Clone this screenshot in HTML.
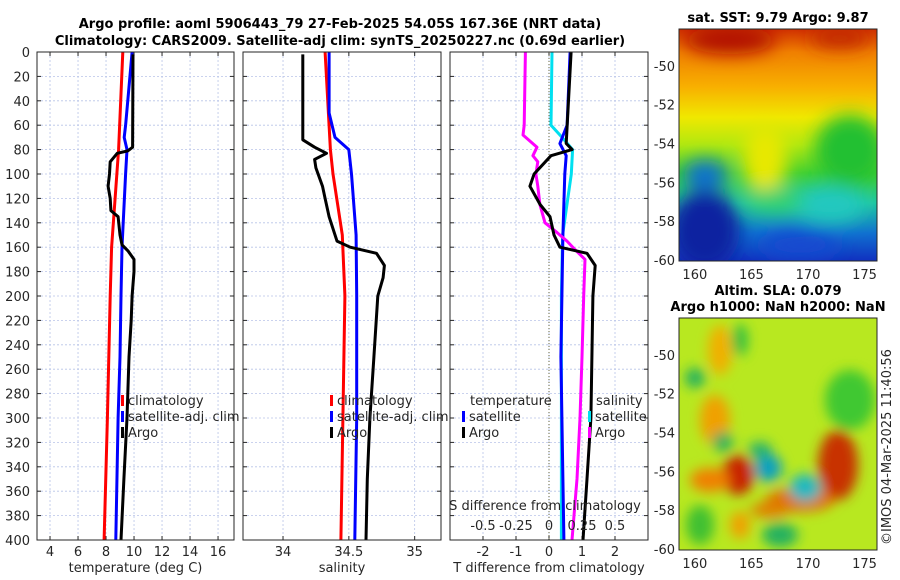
<!DOCTYPE html>
<html><head><meta charset="utf-8"><style>
body{margin:0;background:#fff;}
svg{display:block;font-family:"DejaVu Sans","Liberation Sans",sans-serif;}
.t{font-size:13px;fill:#262626;}
.tb{font-size:13px;font-weight:bold;fill:#000;}
</style></head><body>
<svg id="c" width="900" height="580" xmlns="http://www.w3.org/2000/svg">
<defs>
<filter id="bl" x="-50%" y="-50%" width="200%" height="200%"><feGaussianBlur stdDeviation="9"/></filter>
<filter id="bl2" x="-50%" y="-50%" width="200%" height="200%"><feGaussianBlur stdDeviation="6"/></filter>
<clipPath id="m1c"><rect x="679" y="29" width="198" height="232"/></clipPath>
<clipPath id="m2c"><rect x="679" y="318" width="198" height="232"/></clipPath>
<linearGradient id="sstg" x1="0" y1="0" x2="0" y2="1">
<stop offset="0" stop-color="#d03000"/><stop offset="0.1" stop-color="#f08000"/><stop offset="0.25" stop-color="#f8b000"/><stop offset="0.38" stop-color="#f0e800"/><stop offset="0.5" stop-color="#b0e810"/><stop offset="0.62" stop-color="#40d030"/><stop offset="0.75" stop-color="#20c8a0"/><stop offset="0.88" stop-color="#1070d0"/><stop offset="1" stop-color="#1030c0"/>
</linearGradient>
</defs>
<text class="tb" x="340" y="28" text-anchor="middle">Argo profile: aoml 5906443_79 27-Feb-2025 54.05S 167.36E (NRT data)</text>
<text class="tb" x="340" y="45" text-anchor="middle">Climatology: CARS2009. Satellite-adj clim: synTS_20250227.nc (0.69d earlier)</text>
<g id="plots"></g>

<g clip-path="url(#m1c)">
<rect x="679" y="29" width="198" height="232" fill="url(#sstg)"/>
<g filter="url(#bl)">
<ellipse cx="730" cy="40" rx="45" ry="14" fill="#b01000"/>
<ellipse cx="840" cy="38" rx="30" ry="10" fill="#c02800"/>
<ellipse cx="765" cy="160" rx="22" ry="35" fill="#e8e800"/>
<ellipse cx="850" cy="150" rx="35" ry="35" fill="#20c030"/>
<ellipse cx="830" cy="205" rx="35" ry="18" fill="#20c8c0"/>
<ellipse cx="705" cy="230" rx="35" ry="40" fill="#0820a0"/>
<ellipse cx="800" cy="245" rx="40" ry="14" fill="#1848d0"/>
<ellipse cx="775" cy="200" rx="30" ry="12" fill="#30d070"/>
<ellipse cx="705" cy="175" rx="22" ry="15" fill="#1070d0"/>
</g>
</g>
<rect x="679" y="29" width="198" height="232" fill="none" stroke="#262626"/>
<text class="tb" x="778" y="22" text-anchor="middle">sat. SST: 9.79 Argo: 9.87</text>

<g clip-path="url(#m2c)">
<rect x="679" y="318" width="198" height="232" fill="#b8e820"/>
<g filter="url(#bl2)">
<ellipse cx="720" cy="350" rx="12" ry="25" fill="#f0b000"/>
<ellipse cx="715" cy="420" rx="15" ry="25" fill="#f0a000"/>
<ellipse cx="695" cy="378" rx="10" ry="10" fill="#20b060"/>
<ellipse cx="740" cy="340" rx="8" ry="16" fill="#30c040"/>
<ellipse cx="850" cy="400" rx="25" ry="30" fill="#40c830"/>
<ellipse cx="738" cy="475" rx="16" ry="20" fill="#c82000"/>
<ellipse cx="710" cy="480" rx="20" ry="12" fill="#f08000"/>
<ellipse cx="838" cy="465" rx="20" ry="35" fill="#c83000"/>
<ellipse cx="800" cy="500" rx="35" ry="12" fill="#e07000"/>
<ellipse cx="770" cy="510" rx="20" ry="8" fill="#e08000"/>
<ellipse cx="768" cy="468" rx="14" ry="14" fill="#10a0c0"/>
<ellipse cx="805" cy="488" rx="16" ry="14" fill="#20b8c0"/>
<ellipse cx="760" cy="450" rx="12" ry="8" fill="#20b070"/>
<ellipse cx="723" cy="442" rx="10" ry="10" fill="#20b060"/>
<ellipse cx="780" cy="535" rx="18" ry="12" fill="#20b060"/>
<ellipse cx="740" cy="525" rx="10" ry="14" fill="#f0a000"/>
<ellipse cx="700" cy="525" rx="14" ry="20" fill="#40c030"/>
</g>
</g>
<rect x="679" y="318" width="198" height="232" fill="none" stroke="#262626"/>
<text class="tb" x="778" y="295" text-anchor="middle">Altim. SLA: 0.079</text>
<text class="tb" x="778" y="311" text-anchor="middle">Argo h1000: NaN h2000: NaN</text>
<text class="t" transform="translate(891,545) rotate(-90)">©IMOS 04-Mar-2025 11:40:56</text>
</svg>
<script>
const tClimDepth=[0,80,160,200,300,400];
const tClim=[9.2,8.9,8.4,8.3,8.1,7.86];
const tSatDepth=[0,60,70,80,100,160,200,250,300,400];
const tSat=[9.86,9.4,9.3,9.5,9.4,9.14,9.07,9.0,8.86,8.7];
const tArgoDepth=[2,78,81,83,90,100,110,120,130,135,150,158,163,170,180,200,220,250,300,350,400];
const tArgo=[9.93,9.9,9.56,8.8,8.3,8.25,8.15,8.3,8.35,8.86,9.0,9.14,9.57,10.0,10.0,9.86,9.8,9.64,9.5,9.28,9.07];
const sClimDepth=[0,80,100,150,200,300,400];
const sClim=[34.32,34.36,34.38,34.45,34.47,34.455,34.44];
const sSatDepth=[0,50,70,80,100,150,200,300,400];
const sSat=[34.35,34.35,34.395,34.5,34.52,34.555,34.56,34.56,34.545];
const sArgoDepth=[2,72,78,83,88,95,110,120,135,155,160,165,175,185,200,250,300,350,400];
const sArgo=[34.15,34.15,34.24,34.33,34.24,34.25,34.3,34.32,34.35,34.41,34.51,34.71,34.77,34.76,34.72,34.69,34.66,34.64,34.63];
const dTSatDepth=[0,60,75,85,100,150,250,400];
const dTSat=[0.64,0.55,0.33,0.52,0.48,0.42,0.36,0.45];
const dTArgoDepth=[0,75,80,85,100,110,125,135,150,160,165,175,200,250,300,350,400];
const dTArgo=[0.67,0.52,0.7,0.06,-0.45,-0.58,-0.27,0.03,0.15,0.33,1.15,1.4,1.33,1.3,1.27,1.15,1.03];
const dSSatDepth=[0,60,70,80,100,150,200,400];
const dSSat=[0.023,0.015,0.099,0.179,0.169,0.103,0.094,0.094];
const dSArgoDepth=[0,60,68,78,85,90,100,110,125,140,148,155,162,170,200,250,300,350,400];
const dSArgo=[-0.179,-0.188,-0.197,-0.091,-0.122,-0.085,-0.099,-0.085,-0.069,-0.030,0.061,0.136,0.197,0.273,0.263,0.25,0.235,0.212,0.174];
const depthTicks=[0,20,40,60,80,100,120,140,160,180,200,220,240,260,280,300,320,340,360,380,400];
const tTicks=[4,6,8,10,12,14,16];
const sTicks=[34,34.5,35];
const dTTicks=[-2,-1,0,1,2];
const dSTickLabels=["-0.5","-0.25","0","0.25","0.5"];
const dSTickVals=[-0.5,-0.25,0,0.25,0.5];
const mapLatTicks=[-50,-52,-54,-56,-58,-60];
const mapLonTicks=[160,165,170,175];

const NS='http://www.w3.org/2000/svg';
const root=document.getElementById('plots');
function mk(tag,attrs,parent){const e=document.createElementNS(NS,tag);for(const k in attrs)e.setAttribute(k,attrs[k]);(parent||root).appendChild(e);return e;}
const Y0=52,Y1=540;
const yD=d=>Y0+(d/400)*(Y1-Y0);
const panels=[
 {x0:37,x1:234,lo:3.07,hi:17.14,ticks:tTicks,label:'temperature (deg C)',name:'temperature'},
 {x0:243,x1:441,lo:33.696,hi:35.2,ticks:sTicks,label:'salinity',name:'salinity'},
 {x0:450,x1:648,lo:-3,hi:3,ticks:dTTicks,label:'T difference from climatology',name:'difference'}
];
panels.forEach(p=>{p.sx=v=>p.x0+(v-p.lo)/(p.hi-p.lo)*(p.x1-p.x0);});
const sDiffX=v=>549+v*132;

panels.forEach((p,pi)=>{
 const g=mk('g',{});
 
 
 depthTicks.forEach(d=>{
  const l=mk('line',{x1:p.x0,x2:p.x1,y1:yD(d),y2:yD(d),stroke:'#b8c4e8','stroke-width':0.8,'stroke-dasharray':'2,2'},g);
  
  
  mk('line',{x1:p.x0,x2:p.x0+4,y1:yD(d),y2:yD(d),stroke:'#262626'},g);
  mk('line',{x1:p.x1,x2:p.x1-4,y1:yD(d),y2:yD(d),stroke:'#262626'},g);
  if(pi===0){const t=mk('text',{x:30,y:yD(d)+5,'text-anchor':'end','class':'t'},g);t.textContent=d;
   
   }
 });
 p.ticks.forEach(v=>{
  const x=p.sx(v);
  const l=mk('line',{x1:x,x2:x,y1:Y0,y2:Y1,stroke:'#b8c4e8','stroke-width':0.8,'stroke-dasharray':'2,2'},g);
  
  
  mk('line',{x1:x,x2:x,y1:Y1,y2:Y1-4,stroke:'#262626'},g);
  mk('line',{x1:x,x2:x,y1:Y0,y2:Y0+4,stroke:'#262626'},g);
  const t=mk('text',{x:x,y:556,'text-anchor':'middle','class':'t'},g);t.textContent=v;
  
  
 });
 const xl=mk('text',{x:(p.x0+p.x1)/2,y:572,'text-anchor':'middle','class':'t'},g);xl.textContent=p.label;
 
 
});

function line(xs,ds,sx,color,name,w){
 const pts=xs.map((v,i)=>sx(v).toFixed(1)+','+yD(ds[i]).toFixed(1)).join(' ');
 const e=mk('polyline',{points:pts,fill:'none',stroke:color,'stroke-width':w||3,'stroke-linejoin':'round'});
 
 
}
const z=mk('line',{x1:549,x2:549,y1:Y0,y2:Y1,stroke:'#6a6a40','stroke-dasharray':'1,2'});



line(tClim,tClimDepth,panels[0].sx,'#ff0000','temp-climatology-line');
line(tSat,tSatDepth,panels[0].sx,'#0000ff','temp-satellite-line');
line(tArgo,tArgoDepth,panels[0].sx,'#000000','temp-argo-line');
line(sClim,sClimDepth,panels[1].sx,'#ff0000','sal-climatology-line');
line(sSat,sSatDepth,panels[1].sx,'#0000ff','sal-satellite-line');
line(sArgo,sArgoDepth,panels[1].sx,'#000000','sal-argo-line');
line(dSSat,dSSatDepth,sDiffX,'#00e0f0','sdiff-satellite-line');
line(dTSat,dTSatDepth,panels[2].sx,'#0000ff','tdiff-satellite-line');
line(dSArgo,dSArgoDepth,sDiffX,'#ff00ff','sdiff-argo-line');
line(dTArgo,dTArgoDepth,panels[2].sx,'#000000','tdiff-argo-line');

const st=mk('text',{x:545,y:510,'text-anchor':'middle','class':'t'});st.textContent='S difference from climatology';


dSTickVals.forEach((v,i)=>{
 const t=mk('text',{x:sDiffX(v),y:530,'text-anchor':'middle','class':'t'});t.textContent=dSTickLabels[i];
 
 
});

panels.forEach(p=>{const r=mk('rect',{x:p.x0,y:Y0,width:p.x1-p.x0,height:Y1-Y0,fill:'none',stroke:'#262626'});
 
 });

function leg(x,y,color,label,name){
 if(color){const b=mk('rect',{x:x,y:y-10,width:3,height:11,fill:color});
  
  }
 const t=mk('text',{x:x+7,y:y,'class':'t'});t.textContent=label;
 
 
}
leg(121,405,'#ff0000','climatology','legend-climatology');
leg(121,421,'#0000ff','satellite-adj. clim','legend-satellite');
leg(121,437,'#000000','Argo','legend-argo');
leg(330,405,'#ff0000','climatology','legend-sal-climatology');
leg(330,421,'#0000ff','satellite-adj. clim','legend-sal-satellite');
leg(330,437,'#000000','Argo','legend-sal-argo');
leg(463,405,null,'temperature','legend-temperature-header');
leg(462,421,'#0000ff','satellite','legend-tdiff-satellite');
leg(462,437,'#000000','Argo','legend-tdiff-argo');
leg(589,405,null,'salinity','legend-salinity-header');
leg(588,421,'#00e0f0','satellite','legend-sdiff-satellite');
leg(588,437,'#ff00ff','Argo','legend-sdiff-argo');

const maps=[{top:29,latTop:-48.1,name:'sst'},{top:318,latTop:-48.1,name:'sla'}];
const lonX=v=>679+(v-158.6)/(176.1-158.6)*198;
maps.forEach(m=>{
 const ly=v=>m.top+(m.latTop-v)*19.4;
 mapLatTicks.forEach(v=>{
  const y=ly(v);
  mk('line',{x1:679,x2:683,y1:y,y2:y,stroke:'#262626'});
  mk('line',{x1:877,x2:873,y1:y,y2:y,stroke:'#262626'});
  const t=mk('text',{x:675,y:y+5,'text-anchor':'end','class':'t'});t.textContent=v;
  
  
 });
 mapLonTicks.forEach(v=>{
  const x=lonX(v);
  mk('line',{x1:x,x2:x,y1:m.top+232,y2:m.top+228,stroke:'#262626'});
  const t=mk('text',{x:x,y:m.top+250,'text-anchor':'middle','class':'t'});t.textContent=v;
  
  
 });
 const c=mk('circle',{cx:lonX(167.36),cy:ly(-54.05),r:5.5,fill:'none',stroke:'#000','stroke-width':1.3});
 
 
 [[166.1,-50.8],[169.1,-52.5],[158.9,-54.6]].forEach(q=>{
  const d=mk('circle',{cx:lonX(q[0]),cy:ly(q[1]),r:1.6,fill:'#000'});
  
  
 });
});
</script>
</body></html>
